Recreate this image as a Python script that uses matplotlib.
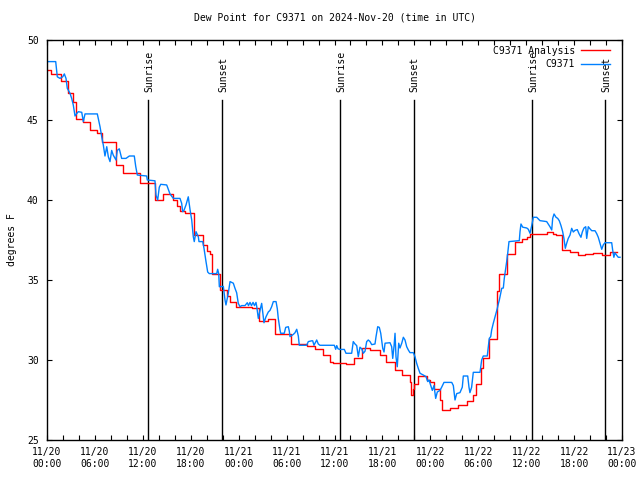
import matplotlib
matplotlib.use("Agg")
import matplotlib.pyplot as plt
from matplotlib.ticker import MultipleLocator

# hours since 11/20 00:00 UTC, dew point in degrees F
analysis_hours = [0.0, 0.5, 1.7, 2.6, 3.3, 3.6, 4.5, 5.4, 6.2, 6.9, 8.6, 9.5, 11.6, 13.5,
                  14.5, 15.8, 16.3, 16.7, 17.3, 18.4, 19.5, 20.0, 20.4, 20.6, 21.6, 22.5,
                  22.9, 23.7, 25.7, 26.6, 27.7, 28.6, 30.6, 32.5, 33.5, 34.5, 35.4, 35.8,
                  37.4, 38.4, 39.5, 40.5, 41.7, 42.5, 43.6, 44.5, 45.4, 45.6, 45.8, 46.0,
                  46.5, 47.6, 48.0, 48.5, 49.2, 49.5, 50.5, 51.5, 52.6, 53.3, 53.7, 54.4,
                  54.6, 55.4, 56.4, 56.6, 57.6, 58.6, 59.5, 60.1, 60.5, 62.6, 63.4, 63.7,
                  64.5, 65.5, 66.5, 67.4, 68.4, 69.5, 70.5, 71.4]
analysis_vals = [48.1, 47.9, 47.45, 46.7, 46.15, 45.05, 44.9, 44.4, 44.2, 43.6, 42.2, 41.7, 41.05, 40.0,
                 40.4, 40.0, 39.6, 39.3, 39.2, 37.8, 37.2, 36.8, 36.6, 35.4, 34.35, 34.0,
                 33.65, 33.3, 33.25, 32.45, 32.55, 31.6, 31.0, 30.87, 30.67, 30.3, 29.9, 29.83,
                 29.75, 30.1, 30.75, 30.6, 30.3, 29.9, 29.4, 29.06, 28.6, 27.8, 28.2, 28.5,
                 29.0, 28.75, 28.6, 28.17, 27.5, 26.9, 26.98, 27.2, 27.44, 27.8, 28.5, 29.5,
                 30.1, 31.3, 34.33, 35.35, 36.6, 37.35, 37.54, 37.7, 37.9, 38.02, 37.85, 37.79,
                 36.9, 36.77, 36.56, 36.6, 36.67, 36.55, 36.77, 36.77]

obs_hours = [0.0, 1.09, 1.29, 1.63, 1.97, 2.17, 2.38, 2.54, 2.88, 3.09, 3.29, 3.51, 3.72, 3.92,
             4.35, 4.55, 4.76, 6.30, 6.64, 6.85, 7.05, 7.26, 7.48, 7.68, 7.89, 8.10, 8.30,
             8.64, 8.80, 9.05, 9.35, 9.89, 10.31, 10.93, 11.11, 11.31, 12.48, 12.56, 13.52,
             13.65, 13.86, 14.06, 14.24, 14.99, 15.40, 15.82, 16.65, 16.86, 16.99, 17.15,
             17.41, 17.69, 17.91, 18.12, 18.32, 18.44, 18.66, 18.95, 19.03, 19.50, 19.66,
             19.91, 20.12, 20.32, 21.25, 21.37, 21.50, 21.58, 22.08, 22.29, 22.41, 22.70,
             22.92, 23.33, 23.54, 23.75, 23.95, 24.17, 24.38, 24.79, 25.08, 25.23, 25.42,
             25.6, 25.8, 25.98, 26.17, 26.26, 26.46, 26.67, 26.88, 27.01, 27.17, 27.42,
             27.71, 27.92, 28.13, 28.34, 28.68, 28.84, 28.96, 29.18, 29.26, 29.71, 29.89,
             30.22, 30.34, 30.43, 30.84, 31.05, 31.27, 31.47, 31.59, 32.52, 32.72, 33.15,
             33.27, 33.43, 33.77, 33.97, 34.18, 35.98, 36.15, 36.28, 36.44, 36.69, 37.23,
             37.44, 38.15, 38.35, 38.57, 38.78, 38.98, 39.19, 39.41, 39.61, 39.82, 40.03,
             40.23, 40.45, 40.66, 41.07, 41.20, 41.41, 41.61, 41.79, 42.04, 42.20, 42.33,
             42.95, 43.16, 43.29, 43.45, 43.58, 43.70, 43.86, 44.04, 44.20, 44.42, 44.62,
             44.83, 45.04, 45.24, 45.45, 45.87, 46.08, 46.29, 46.49, 46.71, 47.12, 47.46,
             47.67, 47.83, 48.25, 48.46, 48.67, 48.87, 49.21, 49.42, 49.71, 50.68, 50.88,
             51.09, 51.30, 51.71, 52.00, 52.13, 52.68, 52.84, 52.96, 53.17, 53.38, 54.22,
             54.43, 54.63, 55.13, 55.26, 55.38, 55.56, 55.68, 55.88, 56.22, 56.39, 56.51,
             56.64, 56.81, 56.94, 57.14, 57.26, 57.44, 57.56, 57.69, 57.85, 59.14, 59.23,
             59.35, 59.57, 60.07, 60.27, 60.48, 60.61, 60.82, 60.89, 61.32, 61.73, 62.57,
             62.77, 62.98, 63.20, 63.32, 63.49, 63.74, 63.95, 64.15, 64.36, 64.57, 64.73,
             64.90, 65.07, 65.27, 65.49, 65.70, 65.90, 66.11, 66.40, 66.61, 66.86, 67.03,
             67.24, 67.46, 67.58, 67.78, 67.99, 68.21, 68.62, 68.83, 69.03, 69.25, 69.46,
             69.66, 69.87, 70.71, 70.83, 70.98, 71.12, 71.33, 71.53, 71.75]
obs_vals = [48.65, 48.65, 47.7, 47.6, 47.7, 47.88, 47.6, 46.98, 46.67, 46.35, 45.94, 45.25, 45.4, 45.52,
            45.48, 44.9, 45.38, 45.38, 44.58, 43.96, 43.44, 42.75, 43.33, 42.7, 42.4, 43.1, 42.8,
            42.5, 43.1, 43.2, 42.6, 42.6, 42.75, 42.75, 42.1, 41.56, 41.5, 41.25, 41.2,
            40.3, 40.0, 40.8, 40.98, 40.94, 40.38, 40.1, 40.1, 39.8, 39.27, 39.35,
            39.7, 40.2, 39.4, 38.75, 37.7, 37.4, 38.02, 37.7, 37.4, 37.4, 36.98,
            36.15, 35.5, 35.4, 35.4, 35.67, 35.4, 34.58, 34.6, 33.75, 33.44, 34.17,
            34.9, 34.8, 34.48, 34.2, 33.54, 33.33, 33.4, 33.4, 33.58, 33.4, 33.6,
            33.4, 33.6, 33.4, 33.6, 33.35, 32.6, 33.1, 33.54, 33.0, 32.33, 32.7,
            33.0, 33.1, 33.33, 33.65, 33.65, 33.2, 32.6, 31.875, 31.67, 31.67, 32.04,
            32.08, 31.8, 31.46, 31.6, 31.7, 31.92, 31.5, 30.92, 30.92, 31.15, 31.2,
            31.2, 30.92, 31.25, 31.0, 30.92, 30.92, 30.67, 30.9, 30.7, 30.66, 30.66,
            30.42, 30.42, 31.15, 31.0, 30.9, 30.21, 30.8, 30.7, 30.42, 30.55, 31.15,
            31.25, 31.15, 30.96, 31.0, 31.46, 32.08, 32.04, 31.67, 30.73, 30.5, 31.05,
            31.08, 30.83, 30.1, 30.83, 31.67, 30.2, 29.58, 31.05, 30.75, 31.05, 31.42,
            31.25, 30.83, 30.63, 30.46, 30.46, 30.2, 29.79, 29.48, 29.17, 29.06, 28.96,
            28.65, 28.75, 28.1, 28.4, 27.6, 28.0, 28.1, 28.3, 28.6, 28.6, 28.4,
            27.5, 27.9, 27.96, 28.3, 29.0, 29.0, 28.3, 27.96, 28.3, 29.23, 29.23,
            30.0, 30.25, 30.25, 30.83, 31.35, 31.46, 31.875, 32.29, 32.92, 33.23, 33.5,
            33.75, 34.17, 34.48, 34.5, 35.1, 35.73, 36.15, 36.67, 37.4, 37.46, 38.02,
            38.5, 38.3, 38.25, 38.17, 37.92, 38.2, 38.71, 38.92, 38.92, 38.71, 38.65,
            38.5, 38.33, 38.125, 38.85, 39.125, 38.92, 38.85, 38.7, 38.4, 38.02, 37.6,
            36.98, 37.29, 37.6, 37.81, 38.23, 38.0, 38.1, 38.15, 37.9, 37.67, 38.0,
            38.25, 38.33, 37.6, 38.33, 38.2, 38.08, 38.08, 37.9, 37.67, 37.29, 36.92,
            37.2, 37.33, 37.33, 36.875, 36.42, 36.7, 36.55, 36.42, 36.42]

sun_hours = [12.68, 21.95, 36.72, 45.9, 60.76, 69.9]
sun_labels = ['Sunrise', 'Sunset', 'Sunrise', 'Sunset', 'Sunrise', 'Sunset']

tick_hours = [0, 6, 12, 18, 24, 30, 36, 42, 48, 54, 60, 66, 72]
tick_labels = ['11/20\n00:00', '11/20\n06:00', '11/20\n12:00', '11/20\n18:00',
               '11/21\n00:00', '11/21\n06:00', '11/21\n12:00', '11/21\n18:00',
               '11/22\n00:00', '11/22\n06:00', '11/22\n12:00', '11/22\n18:00',
               '11/23\n00:00']

plt.rcParams['font.family'] = ['DejaVu Sans Mono']
plt.rcParams['font.size'] = 7

fig = plt.figure(figsize=(6.4, 4.8), dpi=100)
ax = fig.add_axes([47 / 640, 40 / 480, 575 / 640, 400 / 480])

# sunrise / sunset markers
for h, lab in zip(sun_hours, sun_labels):
    ax.plot([h, h], [25, 46.25], color='black', lw=1.0)
    ax.text(h + 0.15, 46.75, lab, rotation=90, ha='center', va='bottom', fontsize=7)

ax.plot(analysis_hours, analysis_vals, color='#ff0000', lw=1.0, drawstyle='steps-post',
        label='C9371 Analysis')
ax.plot(obs_hours, obs_vals, color='#0080ff', lw=1.0, label='C9371')

ax.set_xlim(0, 72)
ax.set_ylim(25, 50)
ax.set_xticks(tick_hours)
ax.set_xticklabels(tick_labels)
ax.xaxis.set_minor_locator(MultipleLocator(2))
ax.set_yticks([25, 30, 35, 40, 45, 50])
ax.tick_params(which='both', direction='in', top=True, right=True, length=3.5, width=0.8, pad=6)
ax.tick_params(axis='x', pad=5)
for s in ax.spines.values():
    s.set_linewidth(1.0)

ax.set_ylabel('degrees F', labelpad=7)
ax.set_title('Dew Point for C9371 on 2024-Nov-20 (time in UTC)', pad=14, fontsize=7)

ax.legend(loc='upper right', bbox_to_anchor=(1 - 6 / 575, 1), frameon=False,
          markerfirst=False, handlelength=3.0, borderaxespad=0.2, labelspacing=0.35,
          handletextpad=0.6, fontsize=7)

fig.savefig('out.png', dpi=100)
